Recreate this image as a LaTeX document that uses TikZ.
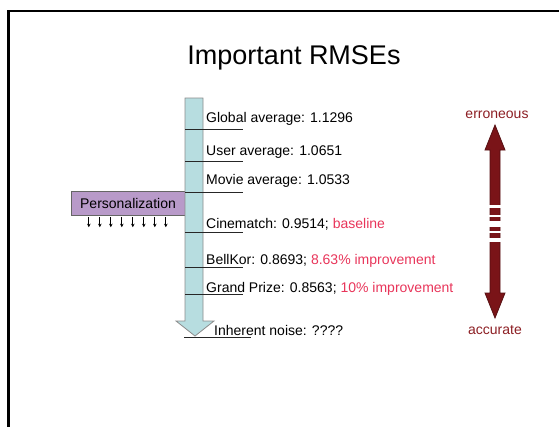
\documentclass[tikz,border=0pt]{standalone}
\usepackage{fontspec}
\setmainfont{Liberation Sans}
\usetikzlibrary{arrows.meta, positioning, calc}
\definecolor{shaftblue}{RGB}{183, 221, 224}
\definecolor{perspurple}{RGB}{184, 154, 201}
\definecolor{gainred}{RGB}{232, 53, 90}
\definecolor{scalered}{RGB}{122, 20, 24}
\definecolor{scaletext}{RGB}{140, 30, 35}
\tikzset{
  rmselabel/.style={anchor=base west, inner sep=0pt, font=\fontsize{14}{16}\selectfont},
  sepline/.style={draw=black!85, line width=0.9pt},
  persbox/.style={draw=black!60, fill=perspurple, minimum width=114pt, minimum height=24pt, inner sep=0pt, font=\fontsize{14}{16}\selectfont},
  endlabel/.style={text=scaletext, inner sep=0pt, font=\fontsize{14}{16}\selectfont},
  tinyarrow/.style={-{Stealth[length=3.5pt, width=3.5pt]}, line width=0.8pt},
}
\begin{document}
\begin{tikzpicture}[x=1pt, y=-1pt]
  \useasboundingbox (0,0) rectangle (559,426);
  % slide frame
  \draw[line width=2.5pt] (8.5,440) -- (8.5,11) -- (575,11);
  \node[font=\fontsize{27}{30}\selectfont] (title) at (294,58) {Important RMSEs};

  % personalization box with its arrows
  \node[persbox] (pers) at (128,203) {Personalization};
  \foreach \dx in {18,29,...,95}
    \draw[tinyarrow] ([xshift=\dx pt, yshift=-2pt]pers.south west) -- ++(0,10);

  % the big down arrow
  \draw[fill=shaftblue, draw=black!45, line width=0.8pt]
    (185,98) -- (203,98) -- (203,321) -- (214,321) -- (195,336) -- (176,321) -- (185,321) -- cycle;
  \foreach \y in {129,161,192,232,267,294}
    \draw[sepline] (185,\y) -- (243,\y);
  \draw[sepline] (184,337) -- (251,337);

  % RMSE labels
  \node[rmselabel] (glob) at (206,122) {Global average: 1.1296};
  \node[rmselabel] (user) at (206,155) {User average: 1.0651};
  \node[rmselabel] (movie) at (206,184) {Movie average: 1.0533};
  \node[rmselabel] (cine) at (206,228) {Cinematch: 0.9514; \textcolor{gainred}{baseline}};
  \node[rmselabel] (bell) at (206,264) {BellKor: 0.8693; \textcolor{gainred}{8.63\% improvement}};
  \node[rmselabel] (grand) at (206,292) {Grand Prize: 0.8563; \textcolor{gainred}{10\% improvement}};
  \node[rmselabel] (noise) at (214,335) {Inherent noise: ????};

  % error scale on the right
  \node[endlabel] (err) at (497,115) {erroneous};
  \node[endlabel] (acc) at (495,330) {accurate};
  \draw[fill=scalered, draw=scalered!70!black, line width=0.8pt]
    (495,125) -- (505,150) -- (500,150) -- (500,293) -- (505,293) -- (495,318)
    -- (485,293) -- (490,293) -- (490,150) -- (485,150) -- cycle;
  \foreach \a/\b in {205/208, 215/217, 221/227, 231/233, 238/242}
    \fill[white] (488,\a) rectangle (502,\b);
\end{tikzpicture}
\end{document}
